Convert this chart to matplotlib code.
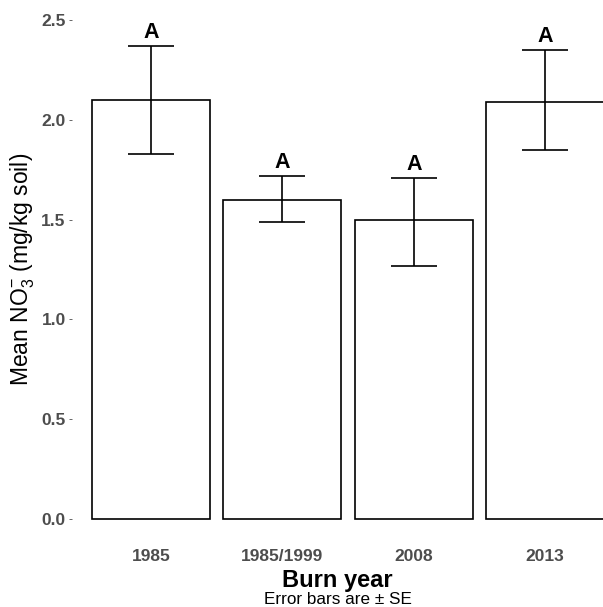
import matplotlib
matplotlib.use("Agg")
import matplotlib.pyplot as plt
import numpy as np

plt.rcParams["mathtext.fontset"] = "custom"
plt.rcParams["mathtext.rm"] = "Liberation Sans"
plt.rcParams["mathtext.it"] = "Liberation Sans:italic"
plt.rcParams["mathtext.bf"] = "Liberation Sans:bold"

categories = ["1985", "1985/1999", "2008", "2013"]
means = [2.10, 1.60, 1.50, 2.09]
upper = [2.37, 1.72, 1.71, 2.35]
lower = [1.83, 1.49, 1.27, 1.85]
letters = ["A", "A", "A", "A"]

W, H = 603, 607
fig = plt.figure(figsize=(W / 100, H / 100), dpi=100)
ax_left, ax_right = 72, 603
ax_top, ax_bottom = 0, 539
ax = fig.add_axes([ax_left / W, 1 - ax_bottom / H, (ax_right - ax_left) / W, (ax_bottom - ax_top) / H])

x = np.arange(len(categories))
ax.bar(x, means, width=0.9, color="white", edgecolor="black", linewidth=1.2, zorder=2)
m = np.array(means)
yerr = np.array([m - np.array(lower), np.array(upper) - m])
ax.errorbar(x, means, yerr=yerr, fmt="none", ecolor="black", elinewidth=1.2,
            capsize=16.5, capthick=1.2, zorder=3)
for xi, u, lab in zip(x, upper, letters):
    ax.text(xi, u + 0.04, lab, ha="center", va="baseline", fontsize=15.5,
            fontweight="bold", color="black", family="Liberation Sans")

ax.set_xlim(-0.60, 3.44)
ax.set_ylim(-0.1, 2.6)
ax.set_yticks([0.0, 0.5, 1.0, 1.5, 2.0, 2.5])
ax.set_yticklabels(["0.0", "0.5", "1.0", "1.5", "2.0", "2.5"])
ax.set_xticks(x)
ax.set_xticklabels(categories)
for s in ax.spines.values():
    s.set_visible(False)
ax.tick_params(axis="y", length=2.5, width=0.6, color="#4D4D4D", pad=2,
               labelsize=12.5, labelcolor="#4D4D4D")
ax.tick_params(axis="x", length=0, pad=7, labelsize=12.5, labelcolor="#4D4D4D")
for lbl in ax.get_xticklabels() + ax.get_yticklabels():
    lbl.set_fontweight("bold")
    lbl.set_fontfamily("Liberation Sans")

ax.set_ylabel(r"Mean NO$_3^{-}$ (mg/kg soil)", fontsize=16.5, family="Liberation Sans",
              labelpad=3)
fig.text(0.5 * (ax_left + ax_right) / W, 1 - 580 / H, "Burn year", ha="center", va="center",
         fontsize=17, fontweight="bold", family="Liberation Sans")
fig.text(0.5 * (ax_left + ax_right) / W, 1 - 599 / H, "Error bars are ± SE", ha="center",
         va="center", fontsize=12.3, family="Liberation Sans")

fig.savefig("out.png", dpi=100)
